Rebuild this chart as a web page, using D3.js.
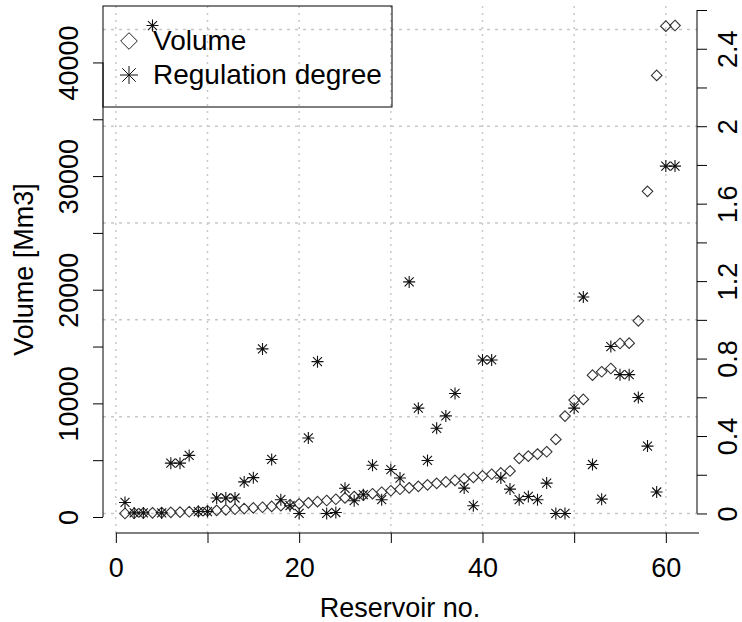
<!DOCTYPE html>
<html>
<head>
<meta charset="utf-8">
<script src="https://cdn.jsdelivr.net/npm/d3@7"></script>
<style>
  body { margin: 0; background: #fff; }
  svg { display: block; font-family: "Liberation Sans", Arial, sans-serif; }
</style>
</head>
<body>
<div id="chart"></div>
<script>
// reservoir number on x, sorted by volume
const reservoirNo = [
    1, 2, 3, 4, 5, 6, 7, 8, 9, 10,
    11, 12, 13, 14, 15, 16, 17, 18, 19, 20,
    21, 22, 23, 24, 25, 26, 27, 28, 29, 30,
    31, 32, 33, 34, 35, 36, 37, 38, 39, 40,
    41, 42, 43, 44, 45, 46, 47, 48, 49, 50,
    51, 52, 53, 54, 55, 56, 57, 58, 59, 60, 61];

// volume [Mm3]
const volume = [
    310, 330, 350, 370, 390, 410, 430, 460, 500, 540,
    580, 630, 680, 740, 800, 860, 930, 1000, 1080, 1160,
    1250, 1350, 1450, 1560, 1680, 1800, 1920, 2050, 2180, 2310,
    2440, 2570, 2700, 2830, 2960, 3090, 3220, 3350, 3480, 3620,
    3760, 3880, 4050, 5160, 5360, 5540, 5740, 6830, 8880, 10290,
    10350, 12480, 12780, 13070, 15270, 15300, 17260, 28660, 38860, 43190, 43250];

// regulation degree (right axis)
const regulation = [
    0.057, 0.003, 0.003, 2.52, 0.003, 0.26, 0.26, 0.30, 0.01, 0.01,
    0.08, 0.08, 0.08, 0.163, 0.185, 0.85, 0.279, 0.071, 0.04, 0.0,
    0.39, 0.784, 0.0, 0.005, 0.13, 0.066, 0.097, 0.249, 0.071, 0.227,
    0.183, 1.196, 0.544, 0.274, 0.44, 0.504, 0.62, 0.131, 0.04, 0.793,
    0.793, 0.183, 0.126, 0.071, 0.088, 0.071, 0.157, 0.0, 0.0, 0.544,
    1.118, 0.253, 0.074, 0.862, 0.717, 0.717, 0.599, 0.348, 0.111, 1.794, 1.794];

const xTicks = [0, 10, 20, 30, 40, 50, 60];
const xTickLabels = [0, 20, 40, 60];
const volTicks = [0, 5000, 10000, 15000, 20000, 25000, 30000, 35000, 40000];
const volTickLabels = [0, 10000, 20000, 30000, 40000];
const regTicks = [0, 0.2, 0.4, 0.6, 0.8, 1.0, 1.2, 1.4, 1.6, 1.8, 2.0, 2.2, 2.4, 2.6];
const regTickLabels = [0, 0.4, 0.8, 1.2, 1.6, 2.0, 2.4];
const gridX = [0, 10, 20, 30, 40, 50, 60];
const gridReg = [0, 0.5, 1.0, 1.5, 2.0, 2.5];

const legendLabels = ['Volume', 'Regulation degree'];

const margin = ({top: 6, right: 45, bottom: 89, left: 103});
const width = 742 - margin.left - margin.right;
const height = 622 - margin.top - margin.bottom;

// R style 4% padding of the data range
function pad(ext) {
    const d = (ext[1] - ext[0]) * 0.04;
    return [ext[0] - d, ext[1] + d];
}

const svg = d3.select('#chart')
    .append('svg')
    .attr('width', width + margin.left + margin.right)
    .attr('height', height + margin.top + margin.bottom)
    .append('g')
    .attr('transform', 'translate(' + margin.left + ',' + margin.top + ')');

const xScale = d3.scaleLinear().domain(pad(d3.extent(reservoirNo))).range([0, width]);
const yVol = d3.scaleLinear().domain(pad(d3.extent(volume))).range([height, 0]);
const yReg = d3.scaleLinear().domain(pad(d3.extent(regulation))).range([height, 0]);

const fmt = d => String(d);

// grid
svg.append('g').selectAll('line')
    .data(gridX)
    .enter()
    .append('line')
    .attr('x1', d => xScale(d))
    .attr('x2', d => xScale(d))
    .attr('y1', 0)
    .attr('y2', height)
    .attr('stroke', '#c8c8c8')
    .attr('stroke-width', 1.5)
    .attr('stroke-dasharray', '2,5');

svg.append('g').selectAll('line')
    .data(gridReg)
    .enter()
    .append('line')
    .attr('x1', 0)
    .attr('x2', width)
    .attr('y1', d => yReg(d))
    .attr('y2', d => yReg(d))
    .attr('stroke', '#c8c8c8')
    .attr('stroke-width', 1.5)
    .attr('stroke-dasharray', '3,5');

function diamond(r) {
    return 'M0,' + (-r) + 'L' + r + ',0L0,' + r + 'L' + (-r) + ',0Z';
}
function star(r) {
    const a = r * 0.75;
    return 'M' + (-r) + ',0H' + r + 'M0,' + (-r) + 'V' + r +
        'M' + (-a) + ',' + (-a) + 'L' + a + ',' + a +
        'M' + (-a) + ',' + a + 'L' + a + ',' + (-a);
}

// volume points
svg.append('g').selectAll('path')
    .data(volume)
    .enter()
    .append('path')
    .attr('transform', (d, i) => 'translate(' + xScale(reservoirNo[i]) + ',' + yVol(d) + ')')
    .attr('d', diamond(5.3))
    .attr('fill', 'none')
    .attr('stroke', '#333')
    .attr('stroke-width', 1.1);

// regulation points
svg.append('g').selectAll('path')
    .data(regulation)
    .enter()
    .append('path')
    .attr('transform', (d, i) => 'translate(' + xScale(reservoirNo[i]) + ',' + yReg(d) + ')')
    .attr('d', star(6))
    .attr('fill', 'none')
    .attr('stroke', '#111')
    .attr('stroke-width', 1.1);

// axes
const fontSize = 27;

const xAxis = svg.append('g')
    .attr('class', 'x-axis')
    .attr('transform', 'translate(0,' + height + ')')
    .call(d3.axisBottom(xScale).tickValues(xTicks).tickSize(10)
        .tickFormat(d => xTickLabels.includes(d) ? fmt(d) : ''));
xAxis.select('.domain').remove();
xAxis.append('line')
    .attr('x1', xScale(xTicks[0]))
    .attr('x2', width + 2)
    .attr('stroke', '#000');
xAxis.selectAll('text')
    .attr('y', 44)
    .attr('dy', 0);

const yAxis = svg.append('g')
    .attr('class', 'y-axis')
    .call(d3.axisLeft(yVol).tickValues(volTicks).tickSize(10)
        .tickFormat(d => volTickLabels.includes(d) ? fmt(d) : ''));
yAxis.select('.domain').remove();
yAxis.append('line')
    .attr('y1', yVol(volTicks[0]))
    .attr('y2', yVol(volTicks[volTicks.length - 1]))
    .attr('stroke', '#000');
yAxis.selectAll('text')
    .attr('transform', 'rotate(-90)')
    .attr('x', 0)
    .attr('y', -25)
    .attr('dy', 0)
    .attr('text-anchor', 'middle');

const y2Axis = svg.append('g')
    .attr('class', 'y2-axis')
    .attr('transform', 'translate(' + width + ',0)')
    .call(d3.axisRight(yReg).tickValues(regTicks).tickSize(10)
        .tickFormat(d => regTickLabels.some(v => Math.abs(v - d) < 1e-9) ? fmt(+d.toFixed(1)) : ''));
y2Axis.select('.domain').remove();
y2Axis.append('line')
    .attr('y1', yReg(regTicks[0]))
    .attr('y2', yReg(regTicks[regTicks.length - 1]))
    .attr('stroke', '#000');
y2Axis.selectAll('text')
    .attr('transform', 'rotate(-90)')
    .attr('x', 0)
    .attr('y', 40)
    .attr('dy', 0)
    .attr('text-anchor', 'middle');

svg.selectAll('.tick line').attr('stroke', '#000');
svg.selectAll('.tick text')
    .attr('fill', '#000')
    .style('font-family', '"Liberation Sans", Arial, sans-serif')
    .style('font-size', fontSize + 'px');

// axis titles
svg.append('text')
    .attr('x', width / 2)
    .attr('y', height + 84)
    .attr('text-anchor', 'middle')
    .style('font-size', fontSize + 'px')
    .text('Reservoir no.');

svg.append('text')
    .attr('transform', 'translate(' + (33 - margin.left) + ',' + (height / 2) + ') rotate(-90)')
    .attr('text-anchor', 'middle')
    .style('font-size', fontSize + 'px')
    .text('Volume [Mm3]');

// legend
const legend = svg.append('g').attr('class', 'legend');
legend.append('rect')
    .attr('x', 0)
    .attr('y', 0)
    .attr('width', 289)
    .attr('height', 101)
    .attr('fill', 'none')
    .attr('stroke', '#000');

legend.append('path')
    .attr('transform', 'translate(26,35)')
    .attr('d', diamond(8.3))
    .attr('fill', 'none')
    .attr('stroke', '#222');
legend.append('path')
    .attr('transform', 'translate(26,69)')
    .attr('d', star(9))
    .attr('fill', 'none')
    .attr('stroke', '#111');

legend.selectAll('.legend-label')
    .data(legendLabels)
    .enter()
    .append('text')
    .attr('class', 'legend-label')
    .attr('x', 50)
    .attr('y', (d, i) => 44 + i * 34)
    .style('font-size', '28px')
    .text(d => d);
</script>
</body>
</html>
